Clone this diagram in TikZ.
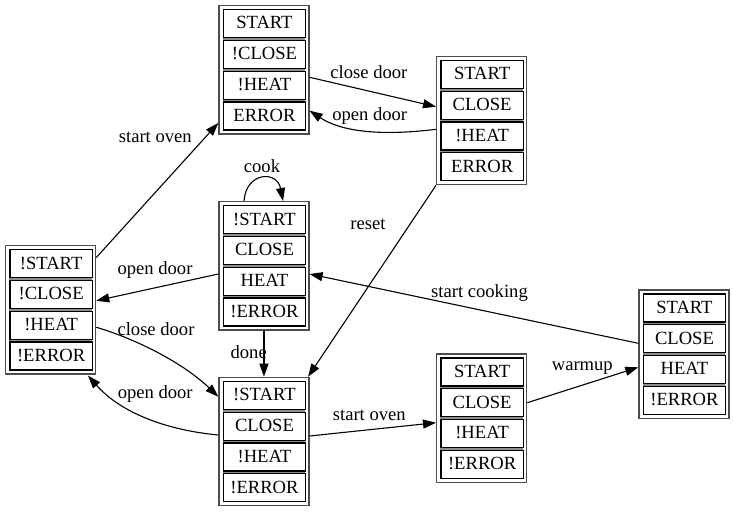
\documentclass[tikz,border=0pt]{standalone}
\usepackage{fontspec}
\setmainfont{Liberation Serif}
\newfontfamily\tmsfont{Liberation Serif}
\usetikzlibrary{arrows.meta,calc}

\tikzset{
  outerbox/.style={draw=black!70, line width=1.3pt, minimum width=90pt, minimum height=128.3pt, inner sep=0pt},
  cellbox/.style={draw=black, fill=white, line width=1.2pt, minimum width=82.3pt, minimum height=28pt, inner sep=0pt, text height=10.8pt, text depth=0pt},
  cellgap/.style={fill=black!45},
  edgeline/.style={draw=black, line width=1.1pt, -{Triangle[length=13pt,width=9pt]}},
  lbl/.style={inner sep=0pt, anchor=base},
}

\newcommand\stbox[7]{%
  \node[outerbox, anchor=north west] (#1) at (#2,#3) {};
  \fill[cellgap] ({#2+4.4},{#3+4}) rectangle ({#2+86.7},{#3+124.4});
  \node[cellbox, anchor=north west] (#1-1) at ({#2+4.4},{#3+4}) {#4};
  \node[cellbox, anchor=north west] (#1-2) at ({#2+4.4},{#3+34.8}) {#5};
  \node[cellbox, anchor=north west] (#1-3) at ({#2+4.4},{#3+65.6}) {#6};
  \node[cellbox, anchor=north west] (#1-4) at ({#2+4.4},{#3+96.4}) {#7};
}

\begin{document}
\begin{tikzpicture}[x=1pt, y=-1pt, font=\tmsfont\fontsize{18.6}{22}\selectfont]
\useasboundingbox[fill=white] (0,0) rectangle (733,511);

\stbox{A}{218.3}{5}{START}{!CLOSE}{!HEAT}{ERROR}
\stbox{B}{436}{55.7}{START}{CLOSE}{!HEAT}{ERROR}
\stbox{C}{218.3}{201}{!START}{CLOSE}{HEAT}{!ERROR}
\stbox{D}{5}{245}{!START}{!CLOSE}{!HEAT}{!ERROR}
\stbox{E}{218.3}{376.7}{!START}{CLOSE}{!HEAT}{!ERROR}
\stbox{F}{436}{353.3}{START}{CLOSE}{!HEAT}{!ERROR}
\stbox{G}{638.3}{289.3}{START}{CLOSE}{HEAT}{!ERROR}

% D -> A start oven
\draw[edgeline] ($(D.north east)+(0,12.5)$) -- ($(A.south west)+(0,-11.6)$);
\node[lbl] (l1) at (155.3,142.5) {start oven};

% A -> B close door
\draw[edgeline] ($(A.north east)+(0,72.3)$) -- ($(B.north west)+(0,51)$);
\node[lbl] (l2) at (368.9,78) {close door};

% B -> A open door
\draw[edgeline] ($(B.north west)+(0,73.6)$) .. controls (390,135) and (345,134) .. ($(A.north east)+(0,105.7)$);
\node[lbl] (l3) at (369.7,120) {open door};

% B -> E reset
\draw[edgeline] (B.south west) -- ($(E.north east)+(-1.5,0)$);
\node[lbl] (l4) at (368,229) {reset};

% C loop cook
\draw[edgeline] ($(C.north west)+(25.7,0)$) .. controls (246,172) and (277,170) .. ($(C.north west)+(64.7,0)$);
\node[lbl] (l5) at (262,172) {cook};

% C -> D open door
\draw[edgeline] ($(C.north west)+(0,73)$) -- ($(D.north east)+(0,55.7)$);
\node[lbl] (l6) at (155,274) {open door};

% G -> C start cooking
\draw[edgeline] ($(G.north west)+(0,54)$) -- ($(C.north east)+(0,73)$);
\node[lbl] (l7) at (479.5,297.5) {start cooking};

% C -> E done
\draw[edgeline] (C.south) -- (E.north);
\node[lbl] (l8) at (248.7,358) {done};

% D -> E close door
\draw[edgeline] ($(D.north east)+(0,82.3)$) .. controls (130,337) and (180,360) .. ($(E.north west)+(0,20)$);
\node[lbl] (l9) at (156,335) {close door};

% E -> D open door
\draw[edgeline] ($(E.north west)+(0,58.3)$) .. controls (165,430) and (120,412) .. ($(D.south east)+(-8.3,1)$);
\node[lbl] (l10) at (155.2,398) {open door};

% E -> F start oven
\draw[edgeline] ($(E.north east)+(0,59.3)$) -- ($(F.north west)+(0,69.4)$);
\node[lbl] (l11) at (369.3,420) {start oven};

% F -> G warmup
\draw[edgeline] ($(F.north east)+(0,49.4)$) -- ($(G.north west)+(0,78)$);
\node[lbl] (l12) at (582.3,370) {warmup};
\end{tikzpicture}
\end{document}
